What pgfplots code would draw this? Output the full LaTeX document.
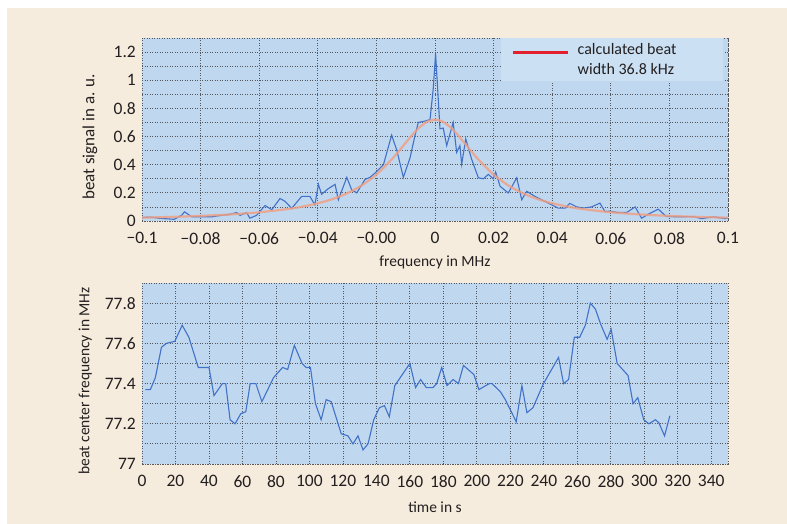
\documentclass[border=0pt]{standalone}
\usepackage{pgfplots}
\pgfplotsset{compat=1.18}
\usepackage{fontspec}
\setmainfont{Carlito}
\definecolor{beige}{HTML}{F6ECDD}
\definecolor{axbg}{HTML}{BFD7EF}
\definecolor{legbg}{HTML}{CBE0F3}
\definecolor{gridc}{HTML}{55585D}
\definecolor{bluec}{HTML}{4272C8}
\definecolor{salmon}{HTML}{F29E80}
\definecolor{legred}{HTML}{E3202B}
\definecolor{textc}{HTML}{231F20}
\pgfplotsset{
  myax/.style={
    scale only axis,
    axis background/.style={fill=axbg},
    grid=both,
    major grid style={gridc, line width=0.8pt, dash pattern=on 0.9pt off 1.6pt},
    minor grid style={gridc, line width=0.8pt, dash pattern=on 0.9pt off 1.6pt},
    axis line style={gridc, line width=0.8pt, dash pattern=on 0.9pt off 1.6pt},
    major tick length=0pt, minor tick length=0pt,
    tick label style={font=\fontsize{17.5}{17.5}\selectfont, text=textc, inner sep=1pt},
    xticklabel style={yshift=-10pt},
    yticklabel style={xshift=-5pt},
    label style={font=\fontsize{15.5}{16}\selectfont, text=textc},
    /pgf/number format/assume math mode=true,
    minor y tick num=1,
    clip=true,
  }
}
\begin{document}
\begin{tikzpicture}[x=1pt,y=1pt]
\path[use as bounding box] (0,0) rectangle (787,524);
\fill[white] (0,0) rectangle (787,524);
\fill[beige] (7,0) rectangle (787,516);
% ---------------- panel a ----------------
\begin{axis}[myax,
  at={(142pt,303pt)}, anchor=south west,
  width=586pt, height=183pt,
  xmin=-0.1, xmax=0.1, ymin=0, ymax=1.3,
  xtick={-0.1,-0.08,-0.06,-0.04,-0.02,0,0.02,0.04,0.06,0.08,0.1},
  xticklabels={−0.1,−0.08,−0.06,−0.04,−0.00,0,0.02,0.04,0.06,0.08,0.1},
  ytick={0,0.2,0.4,0.6,0.8,1,1.2},
  yticklabels={0,0.2,0.4,0.6,0.8,1,1.2},
  xlabel={frequency in MHz},
  ylabel={beat signal in a. u.},
  xlabel style={at={(axis description cs:0.5,-0.224)}, anchor=center},
  ylabel style={at={(axis description cs:-0.0887,0.46)}, anchor=center, font=\fontsize{17}{17}\selectfont},
  legend cell align=left,
  legend image code/.code={\draw[#1] (0pt,7pt) -- (55pt,7pt);},
  legend style={draw=none, fill=legbg, at={(axis description cs:0.6126,1)}, anchor=north west,
    inner xsep=11pt, inner ysep=3pt,
    font=\fontsize{16}{20}\selectfont,
    nodes={align=left, text=textc}},
]
\addplot[bluec, line width=1.1pt, forget plot] coordinates {
(-0.1,0.025) (-0.097,0.028) (-0.094,0.019) (-0.091,0.015) (-0.089,0.012)
(-0.0865,0.04) (-0.0855,0.065) (-0.083,0.03) (-0.080,0.03) (-0.076,0.03)
(-0.073,0.04) (-0.0705,0.045) (-0.0677,0.06) (-0.0665,0.04) (-0.0643,0.06)
(-0.0632,0.02) (-0.0609,0.04) (-0.058,0.11) (-0.0557,0.08) (-0.0529,0.16)
(-0.0512,0.14) (-0.0489,0.09) (-0.0455,0.175) (-0.0427,0.175) (-0.041,0.115)
(-0.0398,0.26) (-0.0387,0.19) (-0.0364,0.23) (-0.0341,0.26) (-0.033,0.15)
(-0.0301,0.31) (-0.0284,0.22) (-0.0267,0.20) (-0.0239,0.295) (-0.0222,0.31)
(-0.0205,0.34) (-0.0176,0.40) (-0.0148,0.61) (-0.013,0.50) (-0.0108,0.31)
(-0.0085,0.45) (-0.0068,0.61) (-0.0057,0.70) (-0.0034,0.71) (-0.0017,0.72)
(-0.0006,0.94) (0.0002,1.19) (0.0009,0.94) (0.0017,0.655) (0.0028,0.66)
(0.004,0.535) (0.0062,0.70) (0.0074,0.487) (0.0085,0.535) (0.0091,0.403)
(0.0105,0.583) (0.0125,0.439) (0.0148,0.307) (0.0165,0.30) (0.0182,0.331)
(0.0199,0.30) (0.0207,0.348) (0.0222,0.247) (0.025,0.199) (0.0279,0.307)
(0.0296,0.151) (0.0313,0.211) (0.0341,0.175) (0.0375,0.139) (0.0398,0.115)
(0.0421,0.091) (0.0444,0.091) (0.046,0.125) (0.0484,0.10) (0.0506,0.092)
(0.0534,0.10) (0.0563,0.127) (0.058,0.067) (0.0597,0.07) (0.0626,0.06)
(0.0654,0.06) (0.0683,0.10) (0.0705,0.02) (0.0734,0.055) (0.0762,0.084)
(0.079,0.031) (0.0836,0.03) (0.0882,0.031) (0.091,0.017) (0.095,0.03)
(0.099,0.017) (0.1,0.02)
};
\addplot[salmon, line width=2.2pt, opacity=0.8, smooth, forget plot] coordinates {
(-0.1,0.0236) (-0.09,0.0289) (-0.08,0.0362) (-0.07,0.0465) (-0.06,0.0619)
(-0.05,0.0859) (-0.045,0.1031) (-0.04,0.1257) (-0.035,0.1559) (-0.03,0.1968)
(-0.025,0.253) (-0.02,0.330) (-0.015,0.4325) (-0.0125,0.4926) (-0.01,0.5558)
(-0.0075,0.6174) (-0.005,0.6705) (-0.0025,0.7070) (0,0.72)
(0.0025,0.7070) (0.005,0.6705) (0.0075,0.6174) (0.01,0.5558) (0.0125,0.4926)
(0.015,0.4325) (0.02,0.330) (0.025,0.253) (0.03,0.1968) (0.035,0.1559)
(0.04,0.1257) (0.045,0.1031) (0.05,0.0859) (0.06,0.0619) (0.07,0.0465)
(0.08,0.0362) (0.09,0.0289) (0.1,0.0236)
};
\addlegendimage{legred, line width=2.5pt}
\addlegendentry{\hspace*{6pt}calculated beat\hspace*{34pt}\\\hspace*{6pt}width 36.8 kHz}
\node[font=\fontsize{21}{21}\selectfont, text=textc] at (axis description cs:-0.092,1.005) {a};
\end{axis}
% ---------------- panel b ----------------
\begin{axis}[myax,
  at={(142pt,60pt)}, anchor=south west,
  width=586pt, height=181pt,
  xmin=0, xmax=350, ymin=77, ymax=77.9,
  xtick={0,20,...,340},
  ytick={77,77.2,77.4,77.6,77.8},
  yticklabels={77,77.2,77.4,77.6,77.8},
  xlabel={time in s},
  ylabel={beat center frequency in MHz},
  xlabel style={at={(axis description cs:0.5,-0.2376)}, anchor=center},
  ylabel style={at={(axis description cs:-0.097,0.46)}, anchor=center},
]
\addplot[bluec, line width=1.1pt] coordinates {
(2,77.37) (5,77.37) (8,77.43) (11.6,77.58) (14.6,77.60) (19.6,77.61) (24,77.69)
(28,77.63) (33.6,77.48) (40,77.48) (43,77.34) (48,77.40) (50,77.40) (52.6,77.22)
(55.6,77.20) (59,77.25) (62,77.26) (64.6,77.40) (68,77.40) (71.6,77.31) (78.6,77.43)
(84,77.48) (87,77.47) (91,77.59) (95.6,77.50) (98,77.48) (100.6,77.48) (103.6,77.30)
(107,77.22) (110,77.32) (113,77.31) (119,77.15) (123,77.14) (126,77.10) (129,77.14)
(132,77.07) (135,77.10) (138.4,77.22) (141.8,77.28) (144.8,77.29) (147.7,77.235)
(151,77.39) (160,77.50) (163.4,77.38) (166.4,77.42) (169.8,77.38) (173.8,77.38)
(176,77.40) (179,77.48) (182.2,77.39) (185.8,77.42) (189,77.40) (192,77.49)
(198.2,77.445) (201.2,77.37) (207.5,77.40) (209,77.40) (214,77.36) (217,77.32)
(223.5,77.21) (226.9,77.39) (229.9,77.255) (233.5,77.28) (239.8,77.40) (248.8,77.53)
(251.8,77.40) (254.8,77.42) (258.2,77.63) (261.4,77.63) (264.8,77.69) (267.8,77.80)
(270.8,77.77) (274.2,77.69) (277.8,77.62) (280.2,77.67) (283.8,77.50) (290.3,77.44)
(293.3,77.30) (296.1,77.33) (299.7,77.22) (302.7,77.20) (306.7,77.22) (308.7,77.205)
(312.1,77.14) (315.3,77.24)
};
\node[font=\fontsize{21}{21}\selectfont, text=textc] at (axis description cs:-0.092,1.099) {b};
\end{axis}
\end{tikzpicture}
\end{document}
